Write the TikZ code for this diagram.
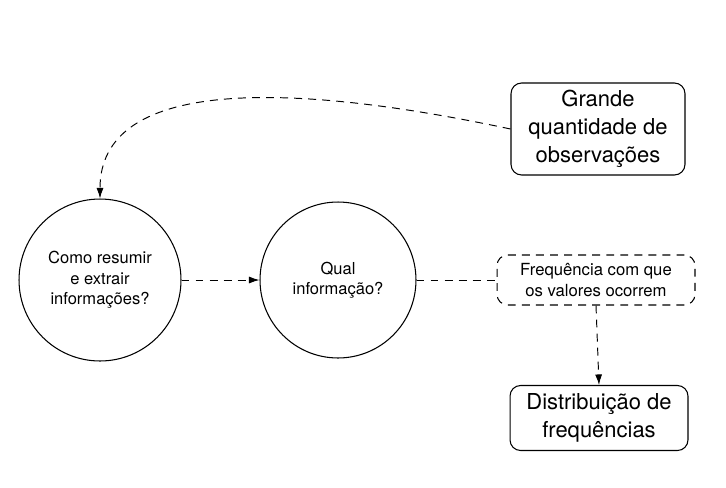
\documentclass[tikz,border=0pt]{standalone}
\usepackage{fontspec}
\setmainfont{TeX Gyre Heros}
\usepackage{xcolor}
\usetikzlibrary{positioning,calc,arrows.meta}

\tikzset{
    conn/.style={draw, line width=0.55pt, dash pattern=on 4.5pt off 3.5pt},
    tip/.style={-{Latex[length=6pt,width=4pt]}},
    question/.style={circle, draw, line width=0.6pt, align=center, font=\fontsize{9.4}{11.6}\selectfont},
    infobox/.style={rectangle, rounded corners=6pt, draw, line width=0.6pt, align=center, font=\fontsize{12.5}{16}\selectfont},
}

\begin{document}
\begin{tikzpicture}[x=0.02cm, y=-0.02cm]
        \useasboundingbox (0,0) rectangle (726,487);

        % perguntas
        \node[question, minimum size=3.24cm] (resumir) at (100,280) {Como resumir\\e extrair\\informações?};
        \node[question, minimum size=3.12cm] (qual) at (338,280) {Qual\\informação?};

        % caixas
        \node[infobox, minimum width=3.48cm, minimum height=1.84cm] (grande) at (598,129) {Grande\\quantidade de\\observações};
        \node[infobox, dash pattern=on 4.5pt off 3.5pt, minimum width=3.96cm, minimum height=1cm,
              font=\fontsize{9.5}{12.4}\selectfont] (freq) at (596,280) {Frequência com que\\os valores ocorrem};
        \node[infobox, minimum width=3.56cm, minimum height=1.3cm] (dist) at (599,418) {Distribuição de\\frequências};

        % ligações
        \draw[conn, tip] (grande.west) .. controls (280,80) and (100,80) .. (resumir.north);
        \draw[conn, tip] (resumir.east) -- (qual.west);
        \draw[conn] (qual.east) -- (freq.west);
        \draw[conn, tip] (freq.south) -- (dist.north);
    \end{tikzpicture}
\end{document}
